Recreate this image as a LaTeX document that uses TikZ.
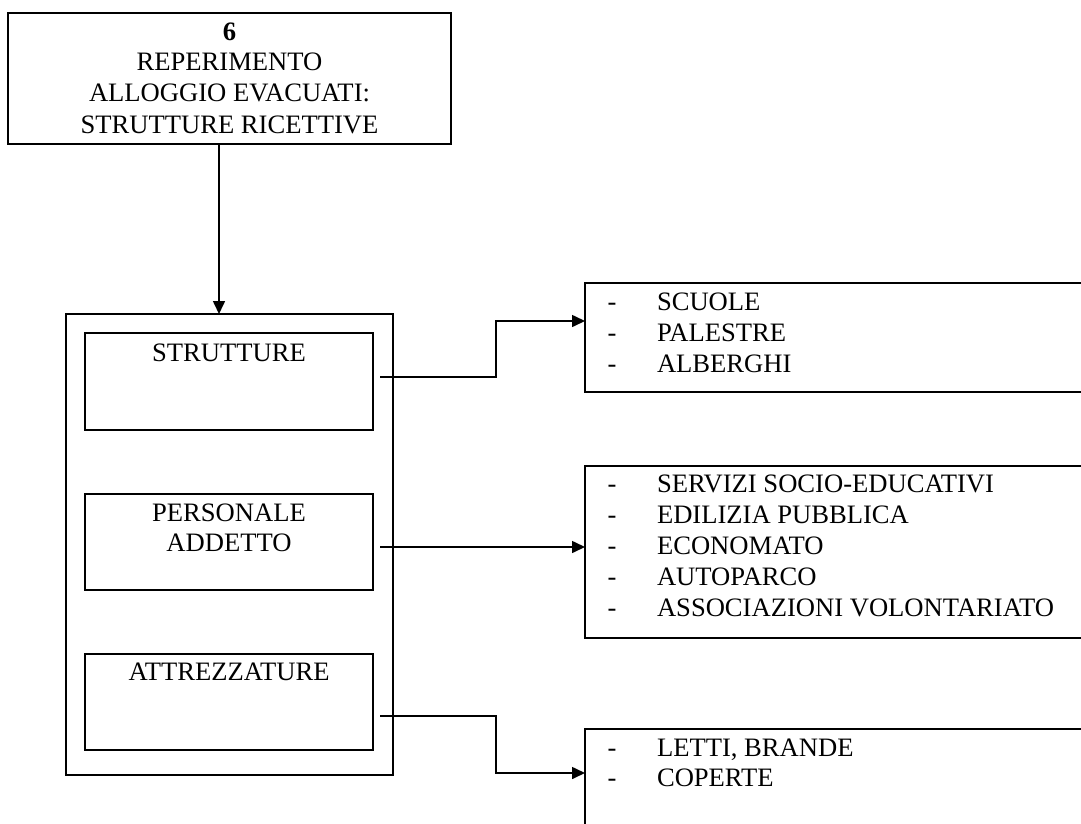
\documentclass[tikz,border=0pt]{standalone}
\usepackage{fontspec}
\setmainfont{Liberation Serif}
\usetikzlibrary{arrows.meta}
\begin{document}
\begin{tikzpicture}[x=1pt,y=-1pt,
  every node/.style={inner sep=0pt,outer sep=0pt},
  box/.style={draw,line width=1.6pt,rectangle},
  txt/.style={anchor=base,font=\fontsize{26.6}{31}\selectfont},
  item/.style={anchor=base west,font=\fontsize{26.6}{31}\selectfont},
  dashmark/.style={anchor=base,font=\fontsize{26.6}{31}\selectfont},
  link/.style={line width=1.6pt},
  arr/.style={link,-{Triangle[length=13pt,width=12pt]}}]
\useasboundingbox (0,0) rectangle (1081,824);
\clip (0,0) rectangle (1081,824);

% main heading box
\node[box,minimum width=443,minimum height=131] (top) at (229.5,78.5) {};
\node[txt,font=\fontsize{26.6}{31}\selectfont\bfseries] (tnum) at (229.5,41) {6};
\node[txt] (t1) at (229.5,71) {REPERIMENTO};
\node[txt] (t2) at (229.5,102) {ALLOGGIO EVACUATI:};
\node[txt] (t3) at (229.5,133) {STRUTTURE RICETTIVE};

% container with the three resource boxes
\node[box,minimum width=327,minimum height=461] (outer) at (229.5,544.5) {};
\node[box,minimum width=288,minimum height=97] (b1) at (229,381.5) {};
\node[box,minimum width=288,minimum height=96] (b2) at (229,542) {};
\node[box,minimum width=288,minimum height=96] (b3) at (229,702) {};
\node[txt] (l1) at (229,361) {STRUTTURE};
\node[txt] (l2a) at (229,521) {PERSONALE};
\node[txt] (l2b) at (229,551) {ADDETTO};
\node[txt] (l3) at (229,680) {ATTREZZATURE};

% lists on the right
\node[box,minimum width=520,minimum height=109] (r1) at (845,337.5) {};
\node[box,minimum width=520,minimum height=172] (r2) at (845,552) {};
\node[box,minimum width=520,minimum height=200] (r3) at (845,829) {};

\foreach \y/\t [count=\i] in {310/SCUOLE,341/PALESTRE,372/ALBERGHI}{
  \node[dashmark] (d1\i) at (612,\y) {-};
  \node[item] (i1\i) at (657,\y) {\t};
}
\foreach \y/\t [count=\i] in {492/SERVIZI SOCIO-EDUCATIVI,523/EDILIZIA PUBBLICA,554/ECONOMATO,585/AUTOPARCO,616/ASSOCIAZIONI VOLONTARIATO}{
  \node[dashmark] (d2\i) at (612,\y) {-};
  \node[item] (i2\i) at (657,\y) {\t};
}
\foreach \y/\t [count=\i] in {756/{LETTI, BRANDE},786/COPERTE}{
  \node[dashmark] (d3\i) at (612,\y) {-};
  \node[item] (i3\i) at (657,\y) {\t};
}

% connectors
\coordinate (xa) at (219,0);
\draw[arr] (top.south -| xa) -- (outer.north -| xa);

\coordinate (s1) at (380,377);
\coordinate (s2) at (380,547);
\coordinate (s3) at (380,716);
\coordinate (e1) at (0,321);
\coordinate (e3) at (0,773);
\draw[arr] (s1) -- (496,377) -- (496,321) -- (r1.west |- e1);
\draw[arr] (s2) -- (r2.west |- s2);
\draw[arr] (s3) -- (496,716) -- (496,773) -- (r3.west |- e3);
\end{tikzpicture}
\end{document}
